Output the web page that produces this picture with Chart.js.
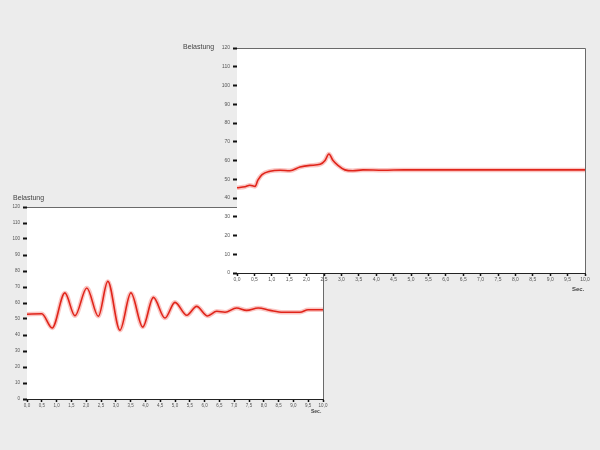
<!DOCTYPE html>
<html>
<head>
<meta charset="utf-8">
<script src="https://cdn.jsdelivr.net/npm/chart.js@4.4.1/dist/chart.umd.min.js"></script>
<style>
  body { margin: 0; background: #ececec; width: 600px; height: 450px; overflow: hidden; position: relative; font-family: 'Liberation Sans', Arial, sans-serif; }
  canvas { position: absolute; }
  #bottomChart { left: 0; top: 200px; z-index: 1; }
  #topChart { left: 180px; top: 40px; z-index: 2; }
  .lbl { position: absolute; font-size: 7px; color: #444; z-index: 3; white-space: nowrap; }
</style>
</head>
<body>
<canvas id="bottomChart" width="330" height="210" style="width:330px;height:210px"></canvas>
<canvas id="topChart" width="410" height="260" style="width:410px;height:260px"></canvas>
<div class="lbl" style="left:183px;top:43px;">Belastung</div>
<div class="lbl" style="left:572px;top:286px;font-weight:bold;font-size:6px;">Sec.</div>
<div class="lbl" style="left:13px;top:194px;">Belastung</div>
<div class="lbl" style="left:311px;top:408px;font-weight:bold;font-size:5px;">Sec.</div>
<script>
// x tick labels (seconds, German decimal comma)
const xTickLabels = ['0,0', '0,5', '1,0', '1,5', '2,0', '2,5', '3,0', '3,5', '4,0', '4,5', '5,0',
  '5,5', '6,0', '6,5', '7,0', '7,5', '8,0', '8,5', '9,0', '9,5', '10,0'];

// upper chart: step response
const topTime = [0, 0.23, 0.37, 0.52, 0.6, 0.72, 0.95, 1.24, 1.52, 1.81, 2.1, 2.39, 2.53, 2.64,
  2.76, 2.9, 3.1, 3.33, 3.62, 4.2, 4.8, 5.5, 6.5, 7.5, 8.5, 9.5, 10];
const topLoad = [45.5, 46, 46.8, 46.2, 49.5, 52.5, 54.3, 54.8, 54.5, 56.5, 57.4, 58, 60, 63.5,
  60, 57.4, 55, 54.5, 55, 54.8, 55, 55, 55, 55, 55, 55, 55];

// lower chart: oscillation
const botTime = [0, 0.5, 0.85, 1.28, 1.62, 2.02, 2.41, 2.73, 3.14, 3.51, 3.91, 4.27, 4.66, 5.0,
  5.4, 5.73, 6.1, 6.41, 6.69, 7.08, 7.42, 7.81, 8.21, 8.65, 9.22, 9.5, 10];
const botLoad = [53, 53.3, 44.4, 66.3, 52, 69.4, 51.7, 73.5, 43, 66.3, 45, 63.5, 50.6, 60.4,
  52.3, 57.9, 51.9, 54.8, 54.2, 56.9, 55.4, 56.9, 55.4, 54.2, 54.2, 55.8, 55.8];

const plotFrame = {
  id: 'plotFrame',
  beforeDatasetsDraw(chart) {
    const { ctx, chartArea: a } = chart;
    ctx.save();
    ctx.fillStyle = '#ffffff';
    ctx.fillRect(a.left, a.top, a.right - a.left, a.bottom - a.top);
    ctx.restore();
  },
  afterDraw(chart) {
    const { ctx, chartArea: a } = chart;
    ctx.save();
    ctx.strokeStyle = '#6a6a6a';
    ctx.lineWidth = 1;
    ctx.beginPath();
    ctx.moveTo(a.left, a.top + 0.5);
    ctx.lineTo(a.right + 0.5, a.top + 0.5);
    ctx.lineTo(a.right + 0.5, a.bottom);
    ctx.stroke();
    ctx.restore();
  },
};

function points(xs, ys) {
  return xs.map((x, i) => ({ x, y: ys[i] }));
}

function makeChart(id, xs, ys, o) {
  const pts = points(xs, ys);
  const line = {
    parsing: false,
    pointRadius: 0,
    cubicInterpolationMode: 'monotone',
    fill: false,
  };
  return new Chart(document.getElementById(id), {
    type: 'line',
    data: {
      datasets: [
        { ...line, data: pts, borderColor: '#e0241a', borderWidth: 1.6, order: 0 },
        { ...line, data: pts, borderColor: 'rgba(240,90,80,0.35)', borderWidth: 4.5, order: 1 },
      ],
    },
    options: {
      responsive: false,
      animation: false,
      events: [],
      layout: { padding: o.padding },
      plugins: { legend: { display: false }, tooltip: { enabled: false } },
      scales: {
        x: {
          type: 'linear',
          min: 0,
          max: 10,
          border: { color: '#222', width: 1 },
          grid: { drawOnChartArea: false, tickLength: 3, tickColor: '#111', tickWidth: 1.5 },
          ticks: {
            stepSize: 0.5,
            autoSkip: false,
            maxRotation: 0,
            padding: 1,
            color: '#555',
            font: { family: 'Liberation Sans', size: o.font },
            callback: (v, i) => xTickLabels[i],
          },
          afterFit: (s) => { s.height = o.xh; s.paddingLeft = 0; s.paddingRight = 0; },
        },
        y: {
          min: 0,
          max: 120,
          border: { color: '#222', width: 1 },
          grid: { drawOnChartArea: false, tickLength: 4, tickColor: '#111', tickWidth: 2 },
          ticks: {
            stepSize: 10,
            padding: 3,
            color: '#555',
            font: { family: 'Liberation Sans', size: o.font },
          },
          afterFit: (s) => { s.width = o.yw; s.paddingTop = 0; s.paddingBottom = 0; },
        },
      },
    },
    plugins: [plotFrame],
  });
}

makeChart('bottomChart', botTime, botLoad, {
  padding: { top: 7, right: 7, left: 0, bottom: 0 }, xh: 11, yw: 27, font: 4.5,
});
makeChart('topChart', topTime, topLoad, {
  padding: { top: 8, right: 5, left: 0, bottom: 0 }, xh: 27, yw: 57, font: 5,
});
</script>
</body>
</html>
